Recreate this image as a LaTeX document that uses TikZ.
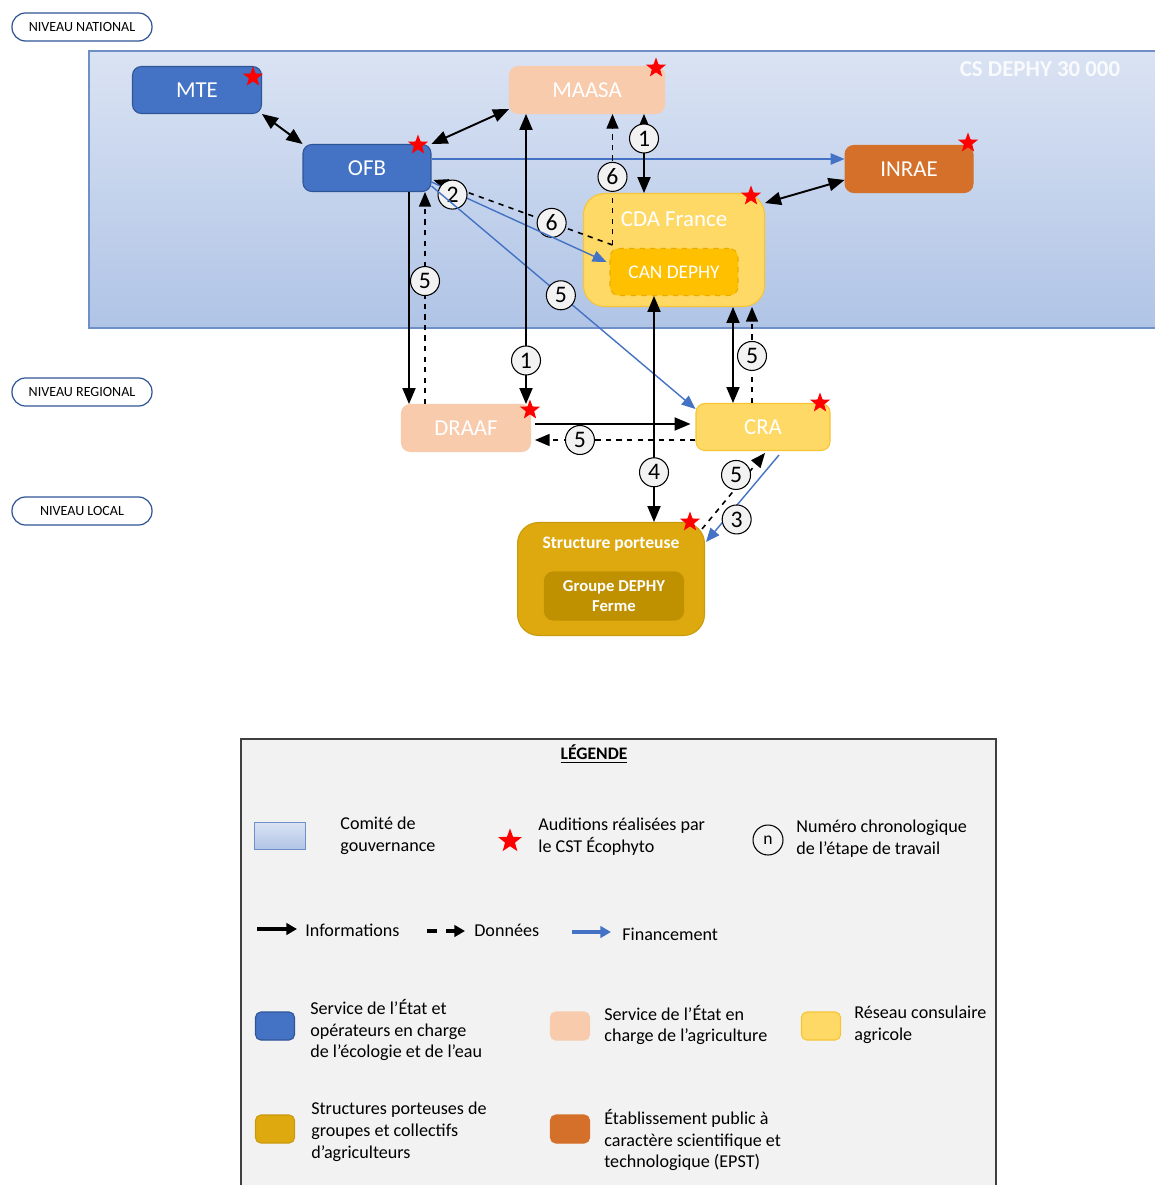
\documentclass[tikz,border=0pt]{standalone}
\usepackage{fontspec}
\setmainfont{Carlito}
\usepackage{tikz}
\usetikzlibrary{arrows,arrows.meta,shapes,calc}
\definecolor{EcoBlue}{HTML}{4472C4}
\definecolor{EcoBlueDark}{HTML}{2F5597}
\definecolor{Peche}{HTML}{F8CBAD}
\definecolor{Jaune}{HTML}{FFD966}
\definecolor{JauneBord}{HTML}{F7C534}
\definecolor{CanFill}{HTML}{FFC000}
\definecolor{CanBord}{HTML}{E8AE00}
\definecolor{Orange}{HTML}{D5702B}
\definecolor{Or}{HTML}{DEA90F}
\definecolor{OrBord}{HTML}{C99A0C}
\definecolor{OrFonce}{HTML}{BF9000}
\definecolor{Gris}{HTML}{F2F2F2}
\definecolor{ComiteHaut}{HTML}{DAE3F3}
\definecolor{ComiteBas}{HTML}{B0C4E6}
\definecolor{ComiteBord}{HTML}{6F8FC9}
\tikzstyle{organisme} = [rectangle, rounded corners=5pt, text=white,
minimum height=0.94cm, inner sep=0pt, line width=0.6pt,
font=\fontsize{13}{15}\selectfont]
\tikzstyle{ecologie} = [organisme, fill=EcoBlue, draw=EcoBlueDark]
\tikzstyle{agriculture} = [organisme, fill=Peche, draw=Peche]
\tikzstyle{consulaire} = [organisme, fill=Jaune, draw=JauneBord]
\tikzstyle{recherche} = [organisme, fill=Orange, draw=Orange]
\tikzstyle{porteuse} = [organisme, fill=Or, draw=OrBord]
\tikzstyle{etoile} = [star, star points=5, star point ratio=2.4, fill=red,
draw=none, minimum size=0.42cm, inner sep=0pt]
\tikzstyle{etape} = [circle, solid, draw=black, fill=Gris, line width=0.6pt,
minimum size=0.58cm, inner sep=0pt, text=black,
font=\fontsize{13.5}{13.5}\selectfont]
\tikzstyle{info} = [>=triangle 45, draw, line width=1.1pt]
\tikzstyle{donnees} = [info, dashed, line width=0.9pt]
\tikzstyle{financement} = [>=triangle 45, draw=EcoBlue, line width=0.8pt]
\tikzstyle{niveau} = [rectangle, rounded corners=0.27cm, draw=EcoBlueDark, fill=white,
line width=0.7pt, minimum width=2.8cm, minimum height=0.56cm, inner sep=0pt,
font=\fontsize{8}{10}\selectfont]
\tikzstyle{legende texte} = [anchor=west, align=left, inner sep=0pt,
font=\fontsize{10.3}{12.5}\selectfont]
\tikzstyle{legende fleche} = [>={Triangle[length=6pt, width=6.5pt]}, line width=1.8pt]
\tikzstyle{pastille} = [rectangle, rounded corners=3pt, minimum width=0.78cm,
minimum height=0.56cm, inner sep=0pt, line width=0.6pt]

\begin{document}
\begin{tikzpicture}[x=0.02cm, y=-0.02cm]
	\useasboundingbox (0,0) rectangle (1154,1185);

	% niveaux
	\node[niveau] (national) at (82,27) {NIVEAU NATIONAL};
	\node[niveau] (regional) at (82,392) {NIVEAU REGIONAL};
	\node[niveau] (local) at (82,511) {NIVEAU LOCAL};

	% comite de gouvernance
	\draw[draw=ComiteBord, line width=0.8pt, top color=ComiteHaut, bottom color=ComiteBas] (89,51) rectangle (1160,328);
	\node[text=white, opacity=0.85, font=\bfseries\fontsize{13}{15}\selectfont] (csdephy) at (1040,69) {CS DEPHY 30 000};

	% organismes
	\node[ecologie, minimum width=2.58cm] (mte) at (197,90) {MTE};
	\node[ecologie, minimum width=2.56cm] (ofb) at (367,168) {OFB};
	\node[agriculture, minimum width=3.1cm] (maasa) at (587,90) {MAASA};
	\node[recherche, minimum width=2.56cm] (inrae) at (909,169) {INRAE};
	\node[consulaire, rounded corners=12pt, minimum width=3.62cm, minimum height=2.26cm] (cda) at (674,250) {};
	\node[text=white, font=\fontsize{13}{15}\selectfont] (cda titre) at (674,219) {CDA France};
	\node[organisme, fill=CanFill, draw=CanBord, dashed, minimum width=2.56cm, font=\fontsize{11}{13}\selectfont] (can) at (674,272) {CAN DEPHY};
	\node[agriculture, minimum width=2.58cm] (draaf) at (466,428) {DRAAF};
	\node[consulaire, minimum width=2.68cm] (cra) at (763,427) {CRA};
	\node[porteuse, rounded corners=12pt, minimum width=3.74cm, minimum height=2.26cm] (sp) at (611,579) {};
	\node[text=white, font=\bfseries\fontsize{10}{12}\selectfont] (sp titre) at (611,544) {Structure porteuse};
	\node[organisme, fill=OrFonce, draw=OrFonce, align=center, minimum width=2.78cm, minimum height=0.96cm, font=\bfseries\fontsize{9.5}{11.5}\selectfont] (groupe) at (614,596) {Groupe DEPHY\\Ferme};

	% auditions
	\node[etoile] (star mte) at (253,77) {};
	\node[etoile] (star ofb) at (418,145) {};
	\node[etoile] (star maasa) at (656,68) {};
	\node[etoile] (star inrae) at (968,143) {};
	\node[etoile] (star cda) at (751,196) {};
	\node[etoile] (star draaf) at (530,410) {};
	\node[etoile] (star cra) at (820,403) {};
	\node[etoile] (star sp) at (690,522) {};

	% liens niveau national
	\draw[info, <->] (mte.south east) -- (ofb.north west);
	\draw[info, <->] (ofb.north east) -- ($(maasa.south west)+(0,-5)$);
	\draw[financement, ->] (ofb.east |- 0,159) -- (inrae.west |- 0,159);
	\draw[info, <->] (cda.east |- 0,203) -- (inrae.west |- 0,180);
	\draw[info, <->] (644,0 |- maasa.south) -- node[etape, pos=0.31]{1} (644,0 |- cda.north);
	\coordinate (can coin) at ($(can.north west)+(3,-3)$);
	\draw[donnees, ->] (can coin) -- node[etape, pos=0.52]{6} (maasa.south -| can coin);
	\draw[donnees, ->] (can coin) -- node[etape, pos=0.34]{6} ($(ofb.east)+(2,12)$);
	\draw[financement, ->] ($(ofb.east)+(0,14)$) -- node[etape, pos=0.12, yshift=-0.06cm]{2} ($(can.west)+(-3,-10)$);
	\draw[financement, ->] ($(ofb.south east)+(0,-6)$) -- node[etape, pos=0.49]{5} ($(cra.north west)+(0,6)$);

	% liens niveau regional
	\draw[info, ->] (409,0 |- ofb.south) -- (409,0 |- draaf.north);
	\draw[donnees, ->] (425,0 |- draaf.north) -- node[etape, pos=0.58]{5} (425,0 |- ofb.south);
	\draw[info, <->] (526,0 |- maasa.south) -- node[etape, pos=0.85]{1} (526,0 |- draaf.north);
	\draw[info, ->] ($(draaf.east |- 0,424)+(4,0)$) -- ($(cra.west |- 0,424)+(-5,0)$);
	\draw[donnees, ->] (cra.west |- 0,440) -- node[etape, pos=0.72]{5} ($(draaf.east |- 0,440)+(4,0)$);
	\draw[info, <->] (733,0 |- cda.south) -- (733,0 |- cra.north);
	\draw[donnees, ->] (752,0 |- cra.north) -- node[etape, pos=0.49]{5} (752,0 |- cda.south);

	% liens niveau local
	\draw[info, <->] (654,0 |- can.south) -- node[etape, pos=0.78]{4} (654,0 |- sp.north);
	\draw[donnees, ->] ($(sp.north east)+(-3,7)$) -- node[etape, pos=0.54, yshift=0.26cm]{5} ($(cra.south)+(2,2)$);
	\draw[financement, ->] ($(cra.south)+(16,4)$) -- node[etape, pos=0.58, yshift=-0.28cm]{3} ($(sp.north east)+(1,20)$);

	% legende
	\draw[draw=black!75, line width=0.8pt, fill=Gris] (241,739) rectangle (996,1190);
	\node[font=\bfseries\fontsize{10}{12}\selectfont] (legende) at (594,754) {\underline{LÉGENDE}};

	\node[draw=ComiteBord, line width=0.8pt, top color=ComiteHaut, bottom color=ComiteBas, minimum width=1.02cm, minimum height=0.54cm, inner sep=0pt] (leg comite) at (280,836) {};
	\node[legende texte] (leg comite texte) at (340,836) {Comité de\\gouvernance};
	\node[etoile, minimum size=0.5cm] (leg star) at (510,841) {};
	\node[legende texte] (leg star texte) at (538,837) {Auditions réalisées par\\le CST Écophyto};
	\node[etape, fill=none, minimum size=0.6cm, font=\fontsize{10}{10}\selectfont] (leg etape) at (768,840) {n};
	\node[legende texte] (leg etape texte) at (796,839) {Numéro chronologique\\de l’étape de travail};

	\node[legende texte] (leg info) at (305,930) {Informations};
	\coordinate (leg info depart) at (257,929);
	\draw[info, ->, legende fleche] (leg info depart) -- ($(leg info.west |- leg info depart)+(-8,0)$);
	\node[legende texte] (leg donnees) at (474,930) {Données};
	\coordinate (leg donnees depart) at (427,931);
	\draw[donnees, ->, legende fleche, dash pattern=on 5.5pt off 5.5pt] (leg donnees depart) -- ($(leg donnees.west |- leg donnees depart)+(-9,0)$);
	\node[legende texte] (leg financement) at (622,934) {Financement};
	\coordinate (leg financement depart) at (572,932);
	\draw[financement, ->, legende fleche] (leg financement depart) -- ($(leg financement.west |- leg financement depart)+(-11,0)$);

	\node[pastille, fill=EcoBlue, draw=EcoBlueDark] (leg ecologie) at (275,1026) {};
	\node[legende texte] (leg ecologie texte) at (310,1030) {Service de l’État et\\opérateurs en charge\\de l’écologie et de l’eau};
	\node[pastille, fill=Peche, draw=Peche] (leg agriculture) at (570,1026) {};
	\node[legende texte] (leg agriculture texte) at (604,1025) {Service de l’État en\\charge de l’agriculture};
	\node[pastille, fill=Jaune, draw=JauneBord] (leg consulaire) at (821,1026) {};
	\node[legende texte] (leg consulaire texte) at (854,1025) {Réseau consulaire\\agricole};
	\node[pastille, fill=Or, draw=OrBord] (leg porteuse) at (275,1129) {};
	\node[legende texte] (leg porteuse texte) at (311,1132) {Structures porteuses de\\groupes et collectifs\\d’agriculteurs};
	\node[pastille, fill=Orange, draw=Orange] (leg recherche) at (570,1129) {};
	\node[legende texte] (leg recherche texte) at (604,1140) {Établissement public à\\caractère scientifique et\\technologique (EPST)};
\end{tikzpicture}
\end{document}
